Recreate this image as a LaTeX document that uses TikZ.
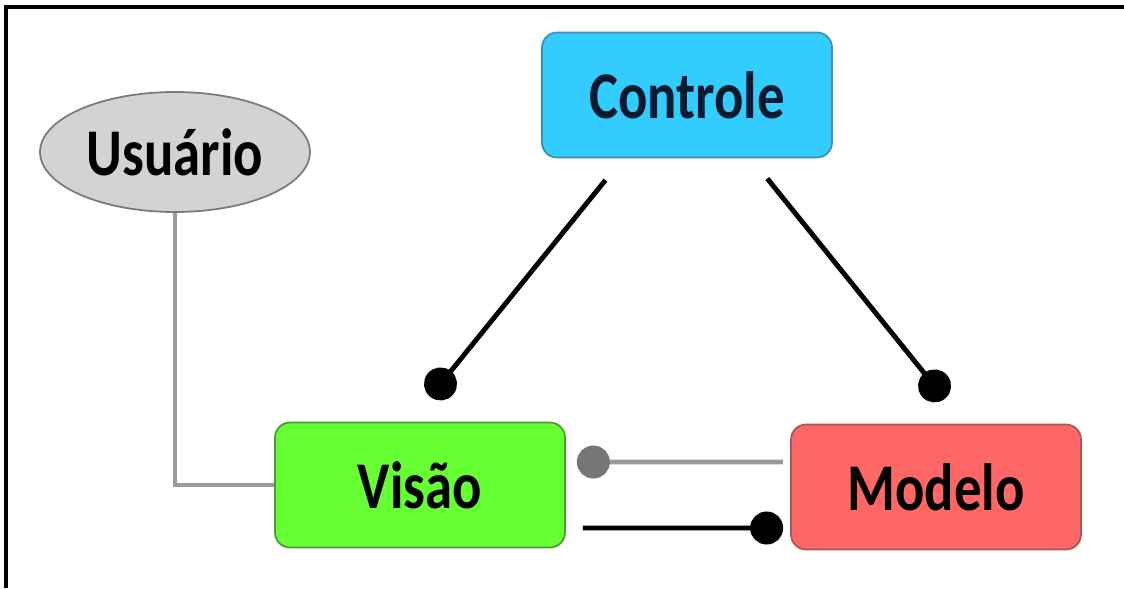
\documentclass[tikz,border=0pt]{standalone}
\usepackage{fontspec}
\setmainfont{Carlito}
\usepackage{graphicx}
\usetikzlibrary{arrows.meta}
\usetikzlibrary{shapes.geometric}

\definecolor{ctrlblue}{HTML}{33CCFF}
\definecolor{ctrledge}{HTML}{3F8FAF}
\definecolor{ctrltext}{HTML}{0A1A2E}
\definecolor{usergrey}{HTML}{D3D3D3}
\definecolor{useredge}{HTML}{7A7A7A}
\definecolor{visgreen}{HTML}{66FF33}
\definecolor{visedge}{HTML}{4C9A34}
\definecolor{modred}{HTML}{FF6666}
\definecolor{modedge}{HTML}{A85656}
\definecolor{linegrey}{HTML}{9A9A9A}
\definecolor{ballgrey}{HTML}{767676}

\newcommand{\slim}[1]{\scalebox{0.82}[1]{#1}}

\begin{document}
\begin{tikzpicture}[x=0.02cm, y=-0.02cm,
  every node/.style={draw, line width=1pt, font=\fontsize{38}{40}\selectfont\bfseries},
  box/.style={rectangle, rounded corners=0.3cm, minimum width=5.8cm, minimum height=2.5cm},
  link/.style={line width=2.8pt, -{Circle[length=0.66cm]}},
  greylink/.style={line width=2.8pt, draw=linegrey, -{Circle[length=0.66cm, color=ballgrey]}},
  userlink/.style={line width=2.8pt, draw=linegrey}]
\useasboundingbox (0,0) rectangle (1124,588);
\draw[line width=2.5pt] (6,588) -- (6,7) -- (1124,7);

\node[box, fill=ctrlblue, draw=ctrledge, text=ctrltext] (ctrl) at (687,95) {\slim{Controle}};
\node[ellipse, fill=usergrey, draw=useredge, minimum width=5.4cm, minimum height=2.4cm] (usuario) at (175,152) {\slim{Usuário}};
\node[box, fill=visgreen, draw=visedge] (visao) at (420,485) {\slim{Visão}};
\node[box, fill=modred, draw=modedge] (modelo) at (936,487) {\slim{Modelo}};

\draw[link, shorten <=0.56cm, shorten >=0.64cm] ([xshift=-1.28cm]ctrl.south) -- ([xshift=-0.2cm]visao.north);
\draw[link, shorten <=0.52cm, shorten >=0.64cm] ([xshift=1.28cm]ctrl.south) -- ([xshift=0.58cm]modelo.north);
\draw[userlink] (usuario.south) |- (visao.west);
\draw[greylink, shorten <=0.14cm, shorten >=0.22cm] ([yshift=0.5cm]modelo.west) -- ([yshift=0.46cm]visao.east);
\draw[link, shorten <=0.34cm, shorten >=0.14cm] ([yshift=-0.86cm]visao.east) -- ([yshift=-0.82cm]modelo.west);
\end{tikzpicture}
\end{document}
